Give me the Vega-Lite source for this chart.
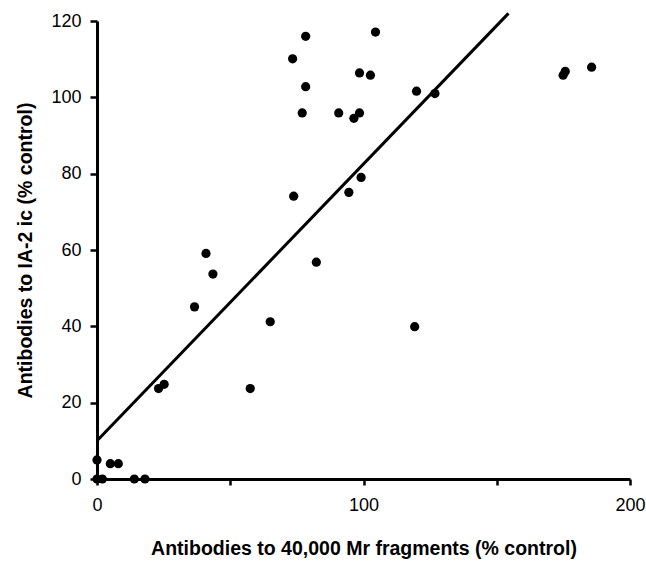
{
  "$schema": "https://vega.github.io/schema/vega-lite/v6.json",
  "width": 533,
  "height": 458,
  "autosize": {"type": "none"},
  "padding": {"left": 97, "top": 21, "right": 16, "bottom": 82},
  "background": "white",
  "config": {
    "view": {"stroke": null},
    "font": "Liberation Sans",
    "axis": {
      "grid": false,
      "ticks": true,
      "labelFlush": false,
      "labelOverlap": false,
      "domainColor": "black",
      "domainWidth": 3,
      "tickColor": "black",
      "tickWidth": 2.5,
      "tickOpacity": 1,
      "labelColor": "black",
      "labelFont": "Liberation Sans",
      "labelFontSize": 18,
      "titleColor": "black",
      "titleFont": "Liberation Sans",
      "titleFontSize": 19.5,
      "titleFontWeight": "bold"
    }
  },
  "datasets": {
    "points": [
      {"x": 0, "y": 5},
      {"x": 0, "y": 0},
      {"x": 2, "y": 0},
      {"x": 5, "y": 4},
      {"x": 8, "y": 4},
      {"x": 14, "y": 0},
      {"x": 18, "y": 0},
      {"x": 23.1, "y": 23.7},
      {"x": 25.2, "y": 24.8},
      {"x": 36.6, "y": 45.1},
      {"x": 40.9, "y": 59.1},
      {"x": 43.5, "y": 53.7},
      {"x": 57.5, "y": 23.7},
      {"x": 65, "y": 41.2},
      {"x": 73.8, "y": 74.1},
      {"x": 73.4, "y": 110.1},
      {"x": 78.3, "y": 116},
      {"x": 78.3, "y": 102.8},
      {"x": 77, "y": 95.9},
      {"x": 82.3, "y": 56.8},
      {"x": 90.7, "y": 95.9},
      {"x": 94.5, "y": 75.1},
      {"x": 96.4, "y": 94.5},
      {"x": 98.5, "y": 95.9},
      {"x": 98.5, "y": 106.4},
      {"x": 99.1, "y": 79},
      {"x": 102.6, "y": 105.8},
      {"x": 104.5, "y": 117.1},
      {"x": 119.2, "y": 39.9},
      {"x": 119.9, "y": 101.6},
      {"x": 126.8, "y": 101},
      {"x": 174.9, "y": 105.8},
      {"x": 175.7, "y": 106.8},
      {"x": 185.6, "y": 107.9}
    ],
    "fit": [
      {"x": 0, "y": 10},
      {"x": 154.4, "y": 122}
    ]
  },
  "layer": [
    {
      "data": {"name": "points"},
      "mark": {"type": "point", "filled": true, "size": 85, "color": "black", "opacity": 1},
      "encoding": {
        "x": {
          "field": "x", "type": "quantitative",
          "scale": {"domain": [0, 200], "nice": false, "zero": false},
          "axis": {
            "values": [0, 50, 100, 150, 200],
            "tickSize": 6,
            "labelExpr": "datum.value % 100 === 0 ? datum.label : ''",
            "labelPadding": 11,
            "title": "Antibodies to 40,000 Mr fragments (% control)",
            "titlePadding": 25
          }
        },
        "y": {
          "field": "y", "type": "quantitative",
          "scale": {"domain": [0, 120], "nice": false, "zero": false},
          "axis": {
            "values": [0, 10, 20, 30, 40, 50, 60, 70, 80, 90, 100, 110, 120],
            "tickSize": 7,
            "labelExpr": "datum.value % 20 === 0 ? datum.label : ''",
            "labelPadding": 9,
            "title": "Antibodies to IA-2 ic (% control)",
            "titlePadding": 15
          }
        }
      }
    },
    {
      "data": {"name": "fit"},
      "mark": {"type": "line", "color": "black", "strokeWidth": 3, "clip": false},
      "encoding": {
        "x": {"field": "x", "type": "quantitative"},
        "y": {"field": "y", "type": "quantitative"}
      }
    }
  ]
}
